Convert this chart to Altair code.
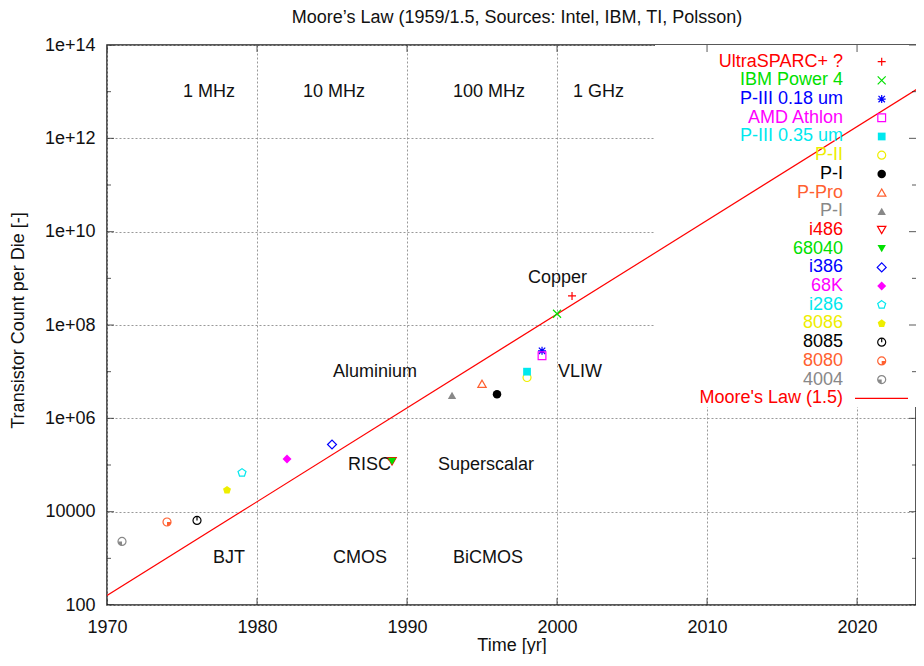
import json
import altair as alt
import pandas as pd

# ---------------- data ----------------
NAMES = ["UltraSPARC+ ?", "IBM Power 4", "P-III 0.18 um", "AMD Athlon", "P-III 0.35 um",
         "P-II", "P-I", "P-Pro", "P-I", "i486", "68040", "i386", "68K", "i286",
         "8086", "8085", "8080", "4004"]
YEARS = [2001, 2000, 1999, 1999, 1998, 1998, 1996, 1995, 1993, 1989, 1989, 1985,
         1982, 1979, 1978, 1976, 1974, 1971]
COUNTS = [4.2e8, 1.74e8, 2.8e7, 2.2e7, 1.0e7, 7.5e6, 3.3e6, 5.5e6, 3.1e6, 1.2e5,
          1.2e5, 2.75e5, 1.34e5, 6.8e4, 2.9e4, 6.5e3, 6.0e3, 2.3e3]

MOORE_LABEL = "Moore's Law (1.5)"
MOORE_YEARS = [1970, 2025]
MOORE_COUNTS = [1.6e2, 1.8e13]

ANNOT_TEXT = ["1 MHz", "10 MHz", "100 MHz", "1 GHz", "Copper", "Aluminium", "VLIW",
              "RISC", "Superscalar", "BJT", "CMOS", "BiCMOS"]
ANNOT_YEAR = [1975, 1983, 1993, 2001, 1998, 1985, 2000, 1986, 1992, 1977, 1985, 1993]
ANNOT_COUNT = [1e13, 1e13, 1e13, 1e13, 1e9, 1e7, 1e7, 1e5, 1e5, 1e3, 1e3, 1e3]

X_TICKS = [1970, 1980, 1990, 2000, 2010, 2020]
Y_TICKS = [1e2, 1e4, 1e6, 1e8, 1e10, 1e12, 1e14]
Y_TICK_LABELS = ["100", "10000", "1e+06", "1e+08", "1e+10", "1e+12", "1e+14"]
Y_MINOR = [1e3, 1e5, 1e7, 1e9, 1e11, 1e13]

TITLE = "Moore\u2019s Law (1959/1.5, Sources: Intel, IBM, TI, Polsson)"
X_TITLE = "Time [yr]"
Y_TITLE = "Transistor Count per Die [-]"

# ---------------- styles ----------------
FONT = "Liberation Sans"
FS = 18
INK = "#111111"
RED = "#ff0000"
GREEN = "#00e000"
BLUE = "#0000ff"
MAGENTA = "#ff00ff"
CYAN = "#00e8ee"
YELLOW = "#eeee00"
BLACK = "#000000"
ORANGE = "#ff6030"
GRAY = "#888888"
COLORS = [RED, GREEN, BLUE, MAGENTA, CYAN, YELLOW, BLACK, ORANGE, GRAY,
          RED, GREEN, BLUE, MAGENTA, CYAN, YELLOW, BLACK, ORANGE, GRAY]

PLUS = "M-1,0H1M0,-1V1"
XMARK = "M-1,-1L1,1M-1,1L1,-1"
STAR = "M-1,0H1M0,-1V1M-0.8,-0.8L0.8,0.8M-0.8,0.8L0.8,-0.8"
PENT = "M0,-1L0.951,-0.309L0.588,0.809L-0.588,0.809L-0.951,-0.309Z"
SHAPES = [PLUS, XMARK, STAR, "square", "square", "circle", "circle", "triangle-up",
          "triangle-up", "triangle-down", "triangle-down", "diamond", "diamond",
          PENT, PENT, "circle", "circle", "circle"]
FILLED = [False, False, False, False, True, False, True, False, True, False, True,
          False, True, False, True, False, False, False]
SIZES = [64, 64, 64, 60, 60, 64, 72, 70, 70, 70, 70, 80, 80, 70, 70, 64, 64, 64]
# extra glyph parts of the three "partial circle" markers
EXTRA_IDX = [15, 16, 17]
EXTRA_SHAPE = ["M0,0V-1", "M0,0H1A1,1,0,0,1,0,1Z", "M0,0V1A1,1,0,0,1,-1,0Z"]
EXTRA_FILLED = [False, True, True]

W, H = 809, 560
X_DOMAIN = [1970, 2023.93]
ROW_DOMAIN = [-0.893, 29.054]

proc = pd.DataFrame({
    "name": NAMES, "year": YEARS, "count": COUNTS, "color": COLORS,
    "shape": SHAPES, "filled": FILLED, "msize": SIZES, "row": list(range(len(NAMES))),
})
extra = pd.DataFrame({
    "year": [YEARS[i] for i in EXTRA_IDX],
    "count": [COUNTS[i] for i in EXTRA_IDX],
    "color": [COLORS[i] for i in EXTRA_IDX],
    "shape": EXTRA_SHAPE, "filled": EXTRA_FILLED,
    "msize": [SIZES[i] for i in EXTRA_IDX],
    "row": EXTRA_IDX,
})
moore = pd.DataFrame({"year": MOORE_YEARS, "count": MOORE_COUNTS})
annot = pd.DataFrame({"text": ANNOT_TEXT, "year": ANNOT_YEAR, "count": ANNOT_COUNT})
legend_df = pd.DataFrame({"name": NAMES + [MOORE_LABEL], "color": COLORS + [RED],
                          "row": list(range(len(NAMES) + 1))})

label_expr = json.dumps(Y_TICK_LABELS) + "[round(log(datum.value)/LN10/2)-1]"

xaxis = alt.Axis(values=X_TICKS, format="d", grid=True, gridDash=[2, 2], gridColor="#999999",
                 gridWidth=1, ticks=False, tickSize=0, domain=False, labelPadding=27,
                 labelBaseline="alphabetic", labelFont=FONT, labelFontSize=FS, labelColor=INK,
                 labelFlush=False, title=X_TITLE, titleFont=FONT, titleFontSize=FS,
                 titleFontWeight="normal", titleColor=INK, titleY=45,
                 titleBaseline="alphabetic", zindex=0, orient="bottom")
yaxis = alt.Axis(values=Y_TICKS, labelExpr=label_expr, grid=True, gridDash=[2, 2],
                 gridColor="#999999", gridWidth=1, ticks=False, tickSize=0, domain=False,
                 labelPadding=12, labelFont=FONT, labelFontSize=FS, labelColor=INK,
                 labelFlush=False, title=Y_TITLE, titleFont=FONT, titleFontSize=FS,
                 titleFontWeight="normal", titleColor=INK, titleX=-89, titleY=275,
                 titleAngle=270, titleAlign="center", titleBaseline="middle",
                 zindex=0, orient="left")

def xs():
    return alt.Scale(domain=X_DOMAIN, nice=False, zero=False)

def ys():
    return alt.Scale(type="log", domain=[Y_TICKS[0], Y_TICKS[-1]], nice=False)

def rs():
    return alt.Scale(domain=ROW_DOMAIN, reverse=True, nice=False, zero=False)

X = lambda: alt.X("year:Q", scale=xs(), axis=xaxis)
Y = lambda: alt.Y("count:Q", scale=ys(), axis=None)
R = lambda: alt.Y("row:Q", scale=rs(), axis=None)

# chart title (placed as a text mark above the plot)
title = alt.Chart(pd.DataFrame({"t": [TITLE]})).mark_text(
    align="center", baseline="middle", font=FONT, fontSize=FS, color=INK).encode(
    x=alt.value(410), y=alt.value(-27), text="t:N")

# legend background box (opaque key box)
bg = alt.Chart(pd.DataFrame({"k": [0]})).mark_rect(color="white").encode(
    x=alt.value(548), x2=alt.value(W), y=alt.value(0), y2=alt.value(362))

moore_line = alt.Chart(moore).mark_line(color=RED, strokeWidth=1.2, clip=True).encode(
    x=X(), y=alt.Y("count:Q", scale=ys(), axis=yaxis))

# inward border ticks
left_t = pd.DataFrame({"year": X_DOMAIN[0], "count": Y_TICKS + Y_MINOR,
                       "len": [14] * len(Y_TICKS) + [8] * len(Y_MINOR)})
right_t = left_t.assign(year=X_DOMAIN[1])
bottom_t = pd.DataFrame({"year": X_TICKS, "count": Y_TICKS[0], "len": 14})
top_t = bottom_t.assign(count=Y_TICKS[-1])

def tick_layer(df, orient):
    return alt.Chart(df).mark_tick(orient=orient, clip=True, thickness=1, color=INK).encode(
        x=X(), y=Y(), size=alt.Size("len:Q", scale=None))

ticks = [tick_layer(left_t, "horizontal"), tick_layer(right_t, "horizontal"),
         tick_layer(bottom_t, "vertical"), tick_layer(top_t, "vertical")]

annots = alt.Chart(annot).mark_text(align="left", baseline="middle", dx=1, font=FONT,
                                    fontSize=FS, color=INK).encode(
    x=X(), y=Y(), text="text:N")

def points(df, filled, legend=False):
    flt = "datum.filled" if filled else "!datum.filled"
    enc = dict(shape=alt.Shape("shape:N", scale=None),
               color=alt.Color("color:N", scale=None),
               size=alt.Size("msize:Q", scale=None))
    if legend:
        enc.update(x=alt.value(774.7), y=R())
    else:
        enc.update(x=X(), y=Y())
    return alt.Chart(df).transform_filter(flt).mark_point(
        filled=filled, strokeWidth=1.2, opacity=1).encode(**enc)

data_pts = [points(proc, False), points(proc, True), points(extra, False), points(extra, True)]

leg_text = alt.Chart(legend_df).mark_text(align="right", baseline="middle", font=FONT,
                                          fontSize=FS).encode(
    x=alt.value(736), y=R(), text="name:N", color=alt.Color("color:N", scale=None))
leg_pts = [points(proc, False, True), points(proc, True, True),
           points(extra, False, True), points(extra, True, True)]
leg_line = alt.Chart(pd.DataFrame({"row": [len(NAMES)]})).mark_rule(
    color=RED, strokeWidth=1.2).encode(x=alt.value(748), x2=alt.value(801), y=R())

chart = alt.layer(bg, moore_line, *ticks, annots, *data_pts, leg_text, *leg_pts, leg_line,
                  title
).resolve_scale(y="independent").properties(
    width=W, height=H,
    padding={"left": 99, "right": 0, "top": 37, "bottom": 49},
    autosize=alt.AutoSizeParams(type="none"),
    background="white",
).configure_view(stroke="#222222", strokeWidth=1.5)

chart.save("out.html", embed_options={"renderer": "svg", "actions": False})
